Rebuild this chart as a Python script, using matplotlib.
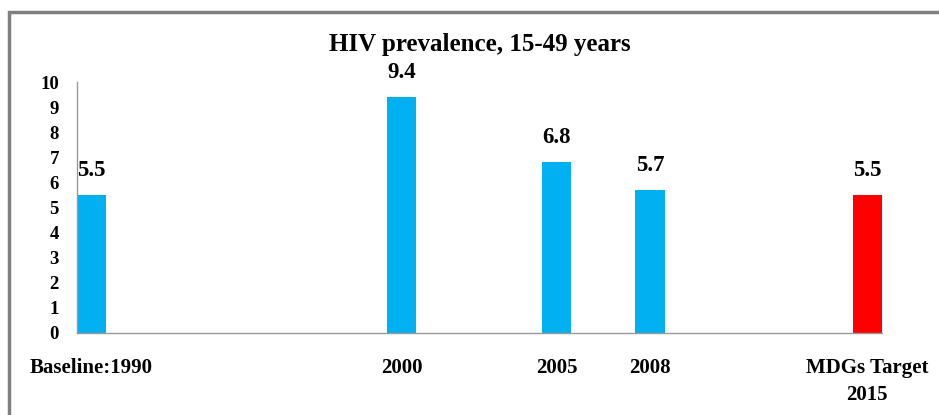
import matplotlib.pyplot as plt
from matplotlib.patches import Rectangle

years = [1990, 2000, 2005, 2008, 2015]
values = [5.5, 9.4, 6.8, 5.7, 5.5]
tick_labels = ["Baseline:1990", "2000", "2005", "2008", "MDGs Target\n2015"]
colors = ["#00B0F0", "#00B0F0", "#00B0F0", "#00B0F0", "#FF0000"]

plt.rcParams['font.family'] = ['Liberation Serif', 'DejaVu Serif']

fig = plt.figure(figsize=(9.39, 4.15), dpi=100)
ax = fig.add_axes([0.082, 0.1976, 0.857, 0.6048])

w = 0.94
ax.bar(years, values, width=w, color=colors)
ax.set_xlim(years[0] - w / 2, years[-1] + w / 2)
ax.set_ylim(0, 10)

for x, v in zip(years, values):
    ax.annotate(f"{v}", (x, v), xytext=(0, 10), textcoords="offset points",
                ha="center", va="bottom", fontsize=16.5, fontweight="bold")

ax.set_xticks(years)
ax.set_xticklabels(tick_labels, fontsize=15, fontweight="bold", linespacing=1.45)
ax.set_yticks(range(0, 11))
ax.set_yticklabels([str(i) for i in range(0, 11)], fontsize=13.5, fontweight="bold")
ax.tick_params(axis="x", length=0, pad=18)
ax.tick_params(axis="y", length=0, pad=13)

for s in ["top", "right"]:
    ax.spines[s].set_visible(False)
for s in ["left", "bottom"]:
    ax.spines[s].set_color("#999999")
    ax.spines[s].set_linewidth(1.0)

fig.text(0.511, 0.892, "HIV prevalence, 15-49 years", ha="center", va="center",
         fontsize=18, fontweight="bold")

# outer frame, cut off at right and bottom like the source
fig.patches.append(Rectangle((8.5 / 939, -0.05), 1.1, 1.05 - 12.5 / 415,
                             transform=fig.transFigure, fill=False,
                             edgecolor="#808080", linewidth=2.5))

fig.savefig("out.png", dpi=100)
